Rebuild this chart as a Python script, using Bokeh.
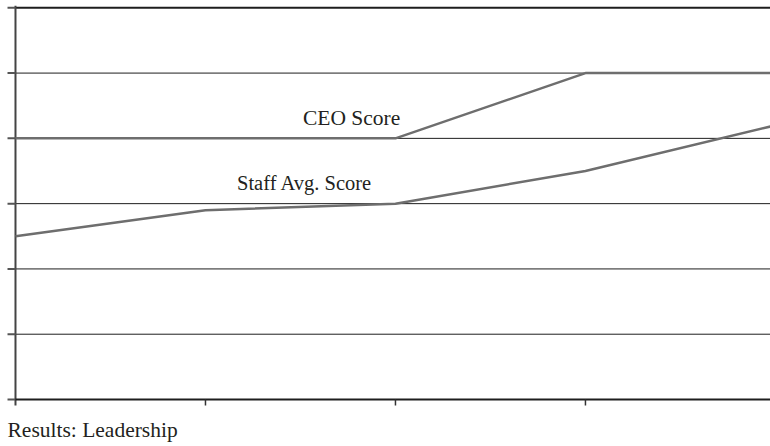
from bokeh.plotting import figure
from bokeh.models import Range1d, Label
from bokeh.embed import file_html
from bokeh.resources import INLINE

# data
periods = [0, 1, 2, 3, 4]
ceo_score = [4, 4, 4, 5, 5]
staff_avg = [2.5, 2.9, 3.0, 3.5, 4.2]
y_ticks = [0, 1, 2, 3, 4, 5, 6]
grid_vals = [1, 2, 3, 4, 5]
x_ticks = [1, 2, 3]
title_text = "Results: Leadership"
ceo_label = "CEO Score"
staff_label = "Staff Avg. Score"

FONT = "Liberation Serif"
X_END = 4.0
TICK_Y = 0.092   # x tick length in data units (~6px)
TICK_X = 0.042   # y tick length in data units (~8px)

p = figure(width=770, height=446, output_backend="svg", toolbar_location=None,
           x_range=Range1d(-0.0789, 3.974), y_range=Range1d(-0.72, 6.112),
           min_border=0)
p.xaxis.visible = False
p.yaxis.visible = False
p.grid.visible = False
p.outline_line_color = None
p.background_fill_color = "white"
p.border_fill_color = "white"

# gridlines
p.segment(x0=[0] * len(grid_vals), y0=grid_vals, x1=[X_END] * len(grid_vals), y1=grid_vals,
          line_color="#1e1e1e", line_width=1)
# top rule
p.segment(x0=[0], y0=[6], x1=[X_END], y1=[6], line_color="#1e1e1e", line_width=2)

# y axis
p.segment(x0=[0], y0=[-TICK_Y], x1=[0], y1=[6.03], line_color="#444444", line_width=2)
p.segment(x0=[-TICK_X] * len(y_ticks), y0=y_ticks, x1=[0] * len(y_ticks), y1=y_ticks,
          line_color="#555555", line_width=2)

# x axis
p.segment(x0=[0], y0=[0], x1=[X_END], y1=[0], line_color="#1e1e1e", line_width=2)
p.segment(x0=x_ticks, y0=[0] * len(x_ticks), x1=x_ticks, y1=[-TICK_Y] * len(x_ticks),
          line_color="#333333", line_width=1.5)

line_color = "#6e6e6e"
p.line(periods, staff_avg, line_color=line_color, line_width=2.5)
p.line(periods, ceo_score, line_color=line_color, line_width=2.5)

p.add_layout(Label(x=1.513, y=4.313, text=ceo_label, text_font=FONT,
                   text_font_size="21.5px", text_color="#231f20", text_baseline="alphabetic"))
p.add_layout(Label(x=1.166, y=3.317, text=staff_label, text_font=FONT,
                   text_font_size="20.5px", text_color="#231f20", text_baseline="alphabetic"))
p.add_layout(Label(x=-0.042, y=-0.474, text=title_text, text_font=FONT,
                   text_font_size="21.5px", text_color="#231f20", text_baseline="alphabetic"))

open("out.html", "w").write(file_html(p, INLINE))
